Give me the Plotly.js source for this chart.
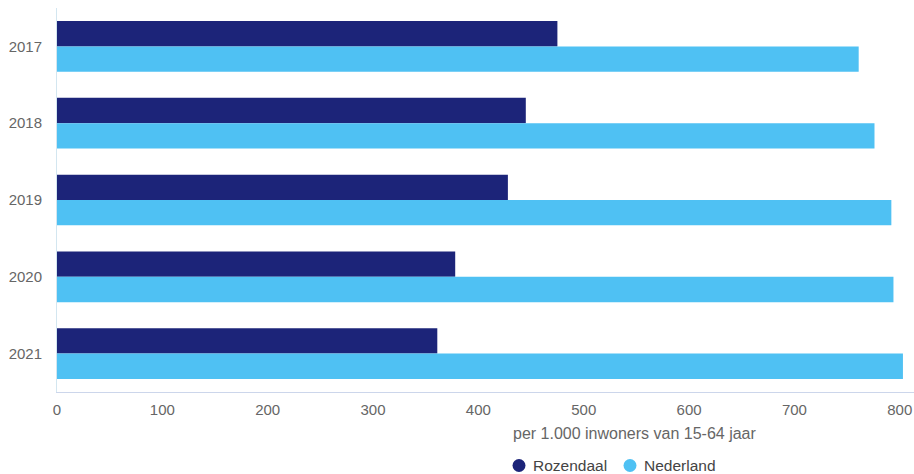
<!DOCTYPE html>
<html>
<head>
<meta charset="utf-8">
<script src="https://cdn.plot.ly/plotly-3.0.1.min.js"></script>
<style>
  html, body { margin: 0; padding: 0; background: #ffffff; }
  #chart { width: 914px; height: 474px; }
</style>
</head>
<body>
<div id="chart"></div>
<script>
// Jaren (categorieën op de y-as)
var jaren = ['2017', '2018', '2019', '2020', '2021'];

// Waarden per 1.000 inwoners van 15-64 jaar
var rozendaal = [475, 445, 428, 378, 361];
var nederland = [761, 776, 792, 794, 803];

var reeksNamen = ['Rozendaal', 'Nederland'];
var kleuren = ['#1c2479', '#4fc1f3'];

var xTicks = [0, 100, 200, 300, 400, 500, 600, 700, 800];
var asTitel = 'per 1.000 inwoners van 15-64 jaar';

var fontFam = '"Liberation Sans", Arial, sans-serif';

var W = 914, H = 474;
var M = { l: 57, r: 0, t: 8, b: 82 };
var plotW = W - M.l - M.r, plotH = H - M.t - M.b;
function px2x(px) { return (px - M.l) / plotW; }
function px2y(py) { return (H - M.b - py) / plotH; }

var traces = [
  {
    type: 'bar', orientation: 'h', name: reeksNamen[0],
    y: jaren, x: rozendaal,
    marker: { color: kleuren[0] },
    hoverinfo: 'x+name'
  },
  {
    type: 'bar', orientation: 'h', name: reeksNamen[1],
    y: jaren, x: nederland,
    marker: { color: kleuren[1] },
    hoverinfo: 'x+name'
  }
];

// Legenda onder de grafiek: ronde symbolen met tekst
var legendaX = [519, 630];   // middelpunt van de symbolen (px)
var legendaY = 465.5;
var shapes = [], annotations = [];
reeksNamen.forEach(function (naam, i) {
  shapes.push({
    type: 'circle', xref: 'paper', yref: 'paper',
    xsizemode: 'pixel', ysizemode: 'pixel',
    xanchor: px2x(legendaX[i]), yanchor: px2y(legendaY),
    x0: -6.5, x1: 6.5, y0: -6.5, y1: 6.5,
    fillcolor: kleuren[i], line: { width: 0 }
  });
  annotations.push({
    text: naam, xref: 'paper', yref: 'paper',
    x: px2x(legendaX[i] + 12), y: px2y(legendaY),
    xanchor: 'left', yanchor: 'middle', showarrow: false,
    font: { size: 15.5, color: '#444444', family: fontFam }
  });
});

annotations.push({
  text: asTitel,
  xref: 'paper', yref: 'paper',
  x: px2x(634.5), y: px2y(433),
  xanchor: 'center', yanchor: 'middle',
  showarrow: false,
  font: { size: 16, color: '#666666', family: fontFam }
});

var layout = {
  width: W,
  height: H,
  margin: { l: M.l, r: M.r, t: M.t, b: M.b, pad: 0 },
  paper_bgcolor: '#ffffff',
  plot_bgcolor: '#ffffff',
  font: { family: fontFam, color: '#666666' },
  barmode: 'group',
  bargap: 0.34,
  bargroupgap: 0,
  showlegend: false,
  xaxis: {
    range: [0, 813.5],
    tickmode: 'array',
    tickvals: xTicks,
    ticktext: xTicks.map(String),
    showgrid: false,
    zeroline: false,
    showline: true,
    linecolor: '#ccd6eb',
    linewidth: 1,
    ticks: '',
    ticklabelstandoff: 4,
    tickfont: { size: 15, color: '#666666', family: fontFam },
    fixedrange: true
  },
  yaxis: {
    type: 'category',
    autorange: 'reversed',
    showgrid: false,
    zeroline: false,
    showline: true,
    linecolor: '#d3e6f0',
    linewidth: 1,
    ticks: '',
    ticklabelstandoff: 11,
    tickfont: { size: 15, color: '#666666', family: fontFam },
    fixedrange: true
  },
  shapes: shapes,
  annotations: annotations
};

Plotly.newPlot('chart', traces, layout, { displayModeBar: false, staticPlot: true });
</script>
</body>
</html>
